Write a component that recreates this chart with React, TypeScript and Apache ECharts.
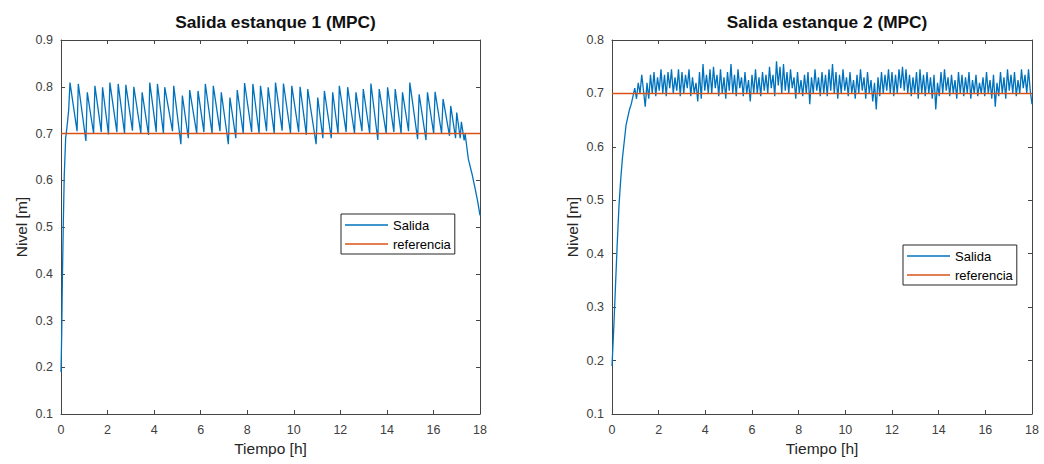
import { useEffect, useRef } from "react";
import * as echarts from "echarts";

const FONT = "'Liberation Sans', Arial, Helvetica, sans-serif";

const titulos = ["Salida estanque 1 (MPC)", "Salida estanque 2 (MPC)"];
const nombres = ["Salida", "referencia"];
const ejeX = "Tiempo [h]";
const ejeY = "Nivel [m]";
const tiempoMax = 18;
const nivelMax = [0.9, 0.8];
const referencia = 0.7;

// Tank 1 output: [time h, level m]
const salida1: [number, number][] = [
  [0.0, 0.19], [0.03, 0.27], [0.06, 0.39], [0.1, 0.51], [0.14, 0.61], [0.2, 0.69], [0.26, 0.715], [0.33, 0.75], [0.386, 0.809],
  [0.69, 0.705], [0.743, 0.806],
  [1.07, 0.684], [1.129, 0.788],
  [1.4, 0.7], [1.457, 0.802],
  [1.73, 0.703], [1.786, 0.799],
  [2.04, 0.698], [2.1, 0.809],
  [2.4, 0.703], [2.457, 0.806],
  [2.73, 0.7], [2.786, 0.804],
  [3.07, 0.706], [3.129, 0.8],
  [3.43, 0.7], [3.486, 0.788],
  [3.76, 0.697], [3.814, 0.809],
  [4.09, 0.703], [4.143, 0.806],
  [4.4, 0.7], [4.457, 0.799],
  [4.79, 0.705], [4.843, 0.802],
  [5.15, 0.677], [5.214, 0.781],
  [5.47, 0.69], [5.529, 0.793],
  [5.83, 0.7], [5.886, 0.791],
  [6.14, 0.703], [6.2, 0.806],
  [6.49, 0.7], [6.543, 0.802],
  [6.83, 0.705], [6.886, 0.788],
  [7.19, 0.677], [7.257, 0.777],
  [7.51, 0.69], [7.571, 0.793],
  [7.83, 0.7], [7.886, 0.808],
  [8.19, 0.703], [8.243, 0.806],
  [8.51, 0.7], [8.571, 0.802],
  [8.83, 0.705], [8.9, 0.799],
  [9.16, 0.7], [9.214, 0.809],
  [9.5, 0.706], [9.557, 0.807],
  [9.86, 0.7], [9.914, 0.802],
  [10.21, 0.703], [10.271, 0.8],
  [10.54, 0.697], [10.6, 0.795],
  [10.96, 0.677], [11.029, 0.777],
  [11.25, 0.69], [11.314, 0.791],
  [11.61, 0.69], [11.671, 0.788],
  [11.9, 0.7], [11.957, 0.802],
  [12.25, 0.703], [12.314, 0.799],
  [12.61, 0.7], [12.671, 0.788],
  [12.93, 0.705], [12.986, 0.795],
  [13.26, 0.7], [13.314, 0.807],
  [13.61, 0.686], [13.671, 0.795],
  [13.97, 0.7], [14.029, 0.799],
  [14.3, 0.703], [14.357, 0.795],
  [14.61, 0.7], [14.671, 0.788],
  [14.93, 0.705], [14.986, 0.809],
  [15.32, 0.688], [15.386, 0.784],
  [15.68, 0.686], [15.743, 0.788],
  [16.01, 0.7], [16.071, 0.789],
  [16.35, 0.7], [16.414, 0.774],
  [16.69, 0.695], [16.743, 0.759],
  [16.95, 0.69], [17.0, 0.745],
  [17.15, 0.69], [17.2, 0.725],
  [17.32, 0.685], [17.36, 0.7], [17.5, 0.645], [17.65, 0.615], [17.8, 0.58], [17.9, 0.555], [18.0, 0.525],
];

// Tank 2 output: levels sampled every dt2 hours from t = 0
const dt2 = 0.075;
const salida2: number[] = [
  0.19, 0.26, 0.34, 0.42, 0.49, 0.54, 0.58, 0.61, 0.64, 0.655, 0.67, 0.68, 0.695, 0.71, 0.69, 0.72, 0.7, 0.735, 0.705, 0.675,
  0.72, 0.69, 0.735, 0.7, 0.74, 0.695, 0.73, 0.705, 0.745, 0.7, 0.735, 0.695, 0.74, 0.71, 0.745, 0.7, 0.73, 0.705, 0.745, 0.695,
  0.74, 0.7, 0.735, 0.71, 0.745, 0.695, 0.73, 0.7, 0.72, 0.685, 0.74, 0.69, 0.755, 0.705, 0.735, 0.7, 0.745, 0.7, 0.75, 0.71,
  0.735, 0.695, 0.745, 0.7, 0.73, 0.69, 0.74, 0.705, 0.755, 0.7, 0.735, 0.695, 0.745, 0.71, 0.73, 0.695, 0.74, 0.7, 0.725, 0.685,
  0.735, 0.7, 0.745, 0.7, 0.73, 0.695, 0.74, 0.705, 0.735, 0.7, 0.75, 0.71, 0.735, 0.695, 0.76, 0.715, 0.75, 0.7, 0.755, 0.705,
  0.74, 0.7, 0.745, 0.71, 0.73, 0.69, 0.74, 0.7, 0.725, 0.695, 0.735, 0.7, 0.74, 0.68, 0.73, 0.7, 0.745, 0.705, 0.73, 0.695,
  0.74, 0.7, 0.735, 0.695, 0.745, 0.705, 0.755, 0.7, 0.74, 0.69, 0.735, 0.7, 0.745, 0.705, 0.73, 0.695, 0.74, 0.7, 0.725, 0.69,
  0.735, 0.7, 0.745, 0.705, 0.73, 0.69, 0.74, 0.7, 0.725, 0.685, 0.72, 0.67, 0.73, 0.695, 0.74, 0.7, 0.735, 0.705, 0.745, 0.7,
  0.74, 0.695, 0.735, 0.7, 0.745, 0.71, 0.75, 0.705, 0.745, 0.7, 0.735, 0.695, 0.73, 0.7, 0.74, 0.69, 0.745, 0.7, 0.735, 0.695,
  0.74, 0.7, 0.73, 0.69, 0.735, 0.67, 0.72, 0.695, 0.74, 0.7, 0.745, 0.705, 0.73, 0.695, 0.735, 0.7, 0.725, 0.69, 0.74, 0.7,
  0.735, 0.695, 0.73, 0.7, 0.74, 0.69, 0.725, 0.7, 0.735, 0.695, 0.72, 0.7, 0.73, 0.695, 0.74, 0.7, 0.725, 0.69, 0.735, 0.675,
  0.72, 0.695, 0.74, 0.7, 0.73, 0.69, 0.745, 0.705, 0.735, 0.7, 0.74, 0.695, 0.725, 0.7, 0.745, 0.71, 0.735, 0.7, 0.745, 0.705,
  0.68,
];

const COLOR_SALIDA = "#0072BD";
const COLOR_REF = "#D95319";
const AXIS_COLOR = "#454545";
const LABEL_COLOR = "#404040";

const grids = [
  { left: 61, top: 40, width: 419, height: 374 },
  { left: 612, top: 40, width: 420, height: 374 },
];

function buildOption() {
  const xAxis: any[] = [];
  const yAxis: any[] = [];
  const series: any[] = [];
  const axisLine = { show: true, onZero: false, lineStyle: { color: AXIS_COLOR, width: 1 } };
  const axisTick = { show: true, inside: true, length: 4, lineStyle: { color: AXIS_COLOR, width: 1 } };
  const label = { color: LABEL_COLOR, fontSize: 12.5, fontFamily: FONT };
  const nameStyle = { color: "#262626", fontSize: 15.5, fontFamily: FONT };

  grids.forEach((_, g) => {
    xAxis.push({
      gridIndex: g, type: "value", position: "bottom", min: 0, max: tiempoMax, interval: 2,
      axisLine, axisTick, splitLine: { show: false },
      axisLabel: { ...label, margin: 9, formatter: (v: number) => String(v) },
      name: ejeX, nameLocation: "middle", nameGap: 26, nameTextStyle: nameStyle,
    });
    xAxis.push({
      gridIndex: g, type: "value", position: "top", min: 0, max: tiempoMax, interval: 2,
      axisLine, axisTick, splitLine: { show: false }, axisLabel: { show: false },
    });
    yAxis.push({
      gridIndex: g, type: "value", position: "left", min: 0.1, max: nivelMax[g], interval: 0.1,
      axisLine, axisTick, splitLine: { show: false },
      axisLabel: { ...label, margin: 8, formatter: (v: number) => v.toFixed(1) },
      name: ejeY, nameLocation: "middle", nameGap: 32, nameTextStyle: nameStyle,
    });
    yAxis.push({
      gridIndex: g, type: "value", position: "right", min: 0.1, max: nivelMax[g], interval: 0.1,
      axisLine, axisTick, splitLine: { show: false }, axisLabel: { show: false },
    });
  });

  const datos = [salida1, salida2.map((v, i) => [i * dt2, v])];
  grids.forEach((_, g) => {
    series.push({
      name: nombres[0], type: "line", xAxisIndex: g * 2, yAxisIndex: g * 2,
      data: datos[g], showSymbol: false, symbol: "none", color: COLOR_SALIDA,
      lineStyle: { color: COLOR_SALIDA, width: 1.3 }, z: 2,
    });
    series.push({
      name: nombres[1], type: "line", xAxisIndex: g * 2, yAxisIndex: g * 2,
      data: [[0, referencia], [tiempoMax, referencia]], showSymbol: false, symbol: "none", color: COLOR_REF,
      lineStyle: { color: COLOR_REF, width: 1.6 }, z: 3,
    });
  });

  const legendBase = {
    data: nombres, orient: "vertical", icon: "rect", itemWidth: 43, itemHeight: 1.3, itemGap: 3,
    padding: [3, 4, 2, 4], borderColor: "#262626", borderWidth: 1, backgroundColor: "#ffffff",
    textStyle: { fontSize: 13, fontFamily: FONT, color: "#000000", lineHeight: 16 },
    selectedMode: false, itemStyle: { borderWidth: 0 },
  };

  return {
    animation: false,
    backgroundColor: "#ffffff",
    title: [
      { text: titulos[0], left: 270.5, top: 8, textAlign: "center", textStyle: { fontSize: 17.3, fontWeight: "bold", color: "#111111", fontFamily: FONT } },
      { text: titulos[1], left: 822, top: 8, textAlign: "center", textStyle: { fontSize: 17.3, fontWeight: "bold", color: "#111111", fontFamily: FONT } },
    ],
    legend: [
      { ...legendBase, left: 341, top: 214 },
      { ...legendBase, left: 903, top: 245 },
    ],
    grid: grids,
    xAxis, yAxis, series,
  };
}

export default function App() {
  const ref = useRef<HTMLDivElement>(null);
  useEffect(() => {
    if (!ref.current) return;
    const chart = echarts.init(ref.current, null, { renderer: "svg" });
    chart.setOption(buildOption() as any);
    return () => chart.dispose();
  }, []);
  return (
    <div
      ref={ref}
      style={{ position: "fixed", left: 0, top: 0, width: 1044, height: 464, background: "#fff" }}
    />
  );
}
